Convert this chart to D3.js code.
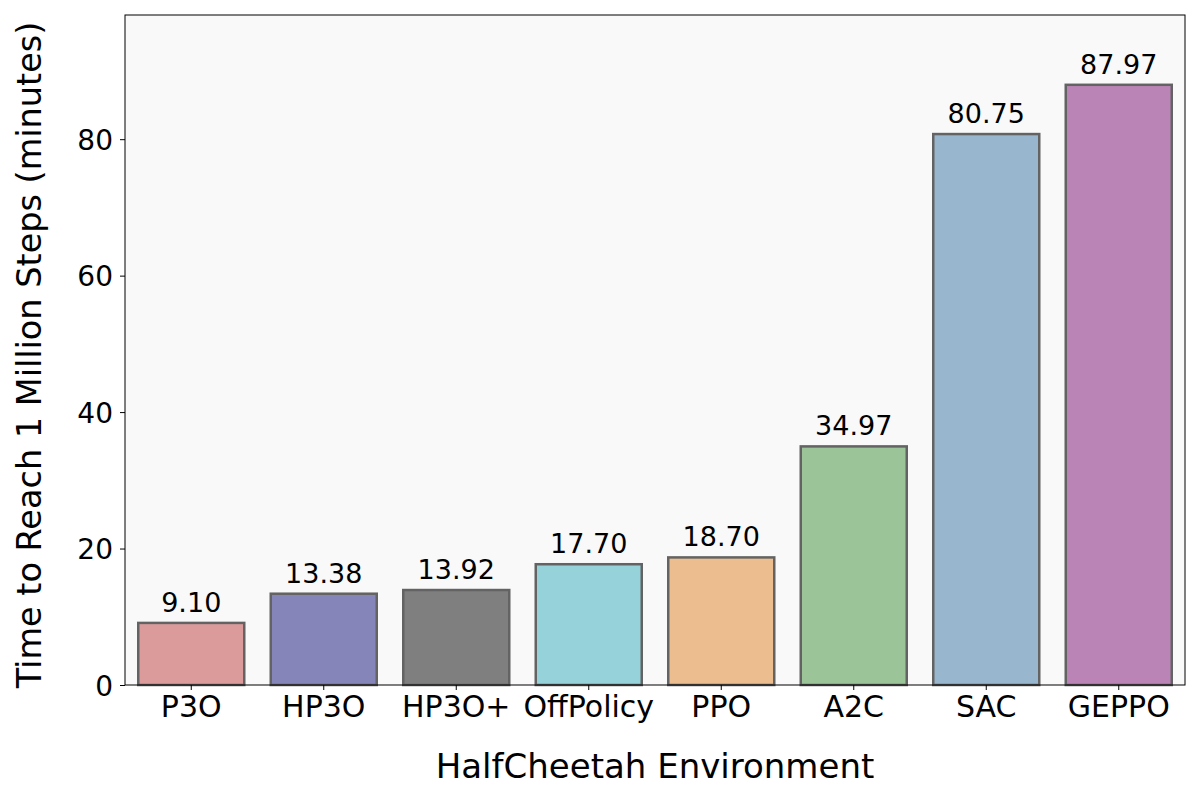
<!DOCTYPE html>
<html>
<head>
<meta charset="utf-8">
<script src="https://cdn.jsdelivr.net/npm/d3@7"></script>
<style>
  body { margin: 0; background: #fff; }
  svg { font-family: "DejaVu Sans", sans-serif; }
</style>
</head>
<body>
<div id="chart"></div>
<script>
// chart data
var algorithms = ["P3O", "HP3O", "HP3O+", "OffPolicy", "PPO", "A2C", "SAC", "GEPPO"];
var minutes = [9.10, 13.38, 13.92, 17.70, 18.70, 34.97, 80.75, 87.97];
var barColors = ["#dc9b9b", "#8585b9", "#7f7f7f", "#96d2d9", "#ecbd8f", "#9bc598", "#98b6cd", "#bb84b6"];
var yTicks = [0, 20, 40, 60, 80];

var W = 1200, H = 800;
var margin = {top: 15, right: 15, bottom: 115, left: 125};
var iw = W - margin.left - margin.right,
    ih = H - margin.top - margin.bottom;

var svg = d3.select("#chart").append("svg")
    .attr("width", W)
    .attr("height", H);

var g = svg.append("g").attr("transform", "translate(" + margin.left + "," + margin.top + ")");

var x = d3.scaleBand()
    .domain(algorithms)
    .range([0, iw])
    .paddingInner(0.2)
    .paddingOuter(0.1);

var y = d3.scaleLinear()
    .domain([0, 98.2])
    .range([ih, 0]);

// plot background
g.append("rect")
    .attr("width", iw)
    .attr("height", ih)
    .attr("fill", "#f9f9f9");

var data = algorithms.map(function(a, i) { return {name: a, val: minutes[i], color: barColors[i]}; });

g.selectAll("rect.bar")
    .data(data)
    .enter().append("rect")
    .attr("class", "bar")
    .attr("x", function(d) { return x(d.name); })
    .attr("y", function(d) { return y(d.val); })
    .attr("width", x.bandwidth())
    .attr("height", function(d) { return ih - y(d.val); })
    .attr("fill", function(d) { return d.color; })
    .attr("stroke", "#636363")
    .attr("stroke-width", 2.5);

g.selectAll("text.val")
    .data(data)
    .enter().append("text")
    .attr("class", "val")
    .attr("x", function(d) { return x(d.name) + x.bandwidth() / 2; })
    .attr("y", function(d) { return y(d.val) - 11; })
    .attr("text-anchor", "middle")
    .attr("font-size", "27px")
    .attr("fill", "#000")
    .text(function(d) { return d.val.toFixed(2); });

// axes
var xAxis = g.append("g")
    .attr("transform", "translate(0," + ih + ")")
    .call(d3.axisBottom(x).tickSize(5).tickPadding(6));
xAxis.selectAll("text").attr("font-size", "30px").attr("fill", "#000").attr("font-family", "DejaVu Sans");

var yAxis = g.append("g")
    .call(d3.axisLeft(y).tickValues(yTicks).tickSize(5).tickPadding(7));
yAxis.selectAll("text").attr("font-size", "28px").attr("fill", "#000").attr("font-family", "DejaVu Sans")
    .attr("dy", "0.36em");

svg.selectAll(".domain").remove();
svg.selectAll(".tick line").attr("stroke", "#000").attr("stroke-width", 1);

// frame
g.append("rect")
    .attr("width", iw)
    .attr("height", ih)
    .attr("fill", "none")
    .attr("stroke", "#000")
    .attr("stroke-width", 1);

// axis titles
svg.append("text")
    .attr("x", margin.left + iw / 2)
    .attr("y", 778)
    .attr("text-anchor", "middle")
    .attr("font-size", "34px")
    .text("HalfCheetah Environment");

svg.append("text")
    .attr("transform", "translate(41," + (margin.top + ih / 2 + 5) + ") rotate(-90)")
    .attr("text-anchor", "middle")
    .attr("font-size", "33.5px")
    .text("Time to Reach 1 Million Steps (minutes)");
</script>
</body>
</html>
